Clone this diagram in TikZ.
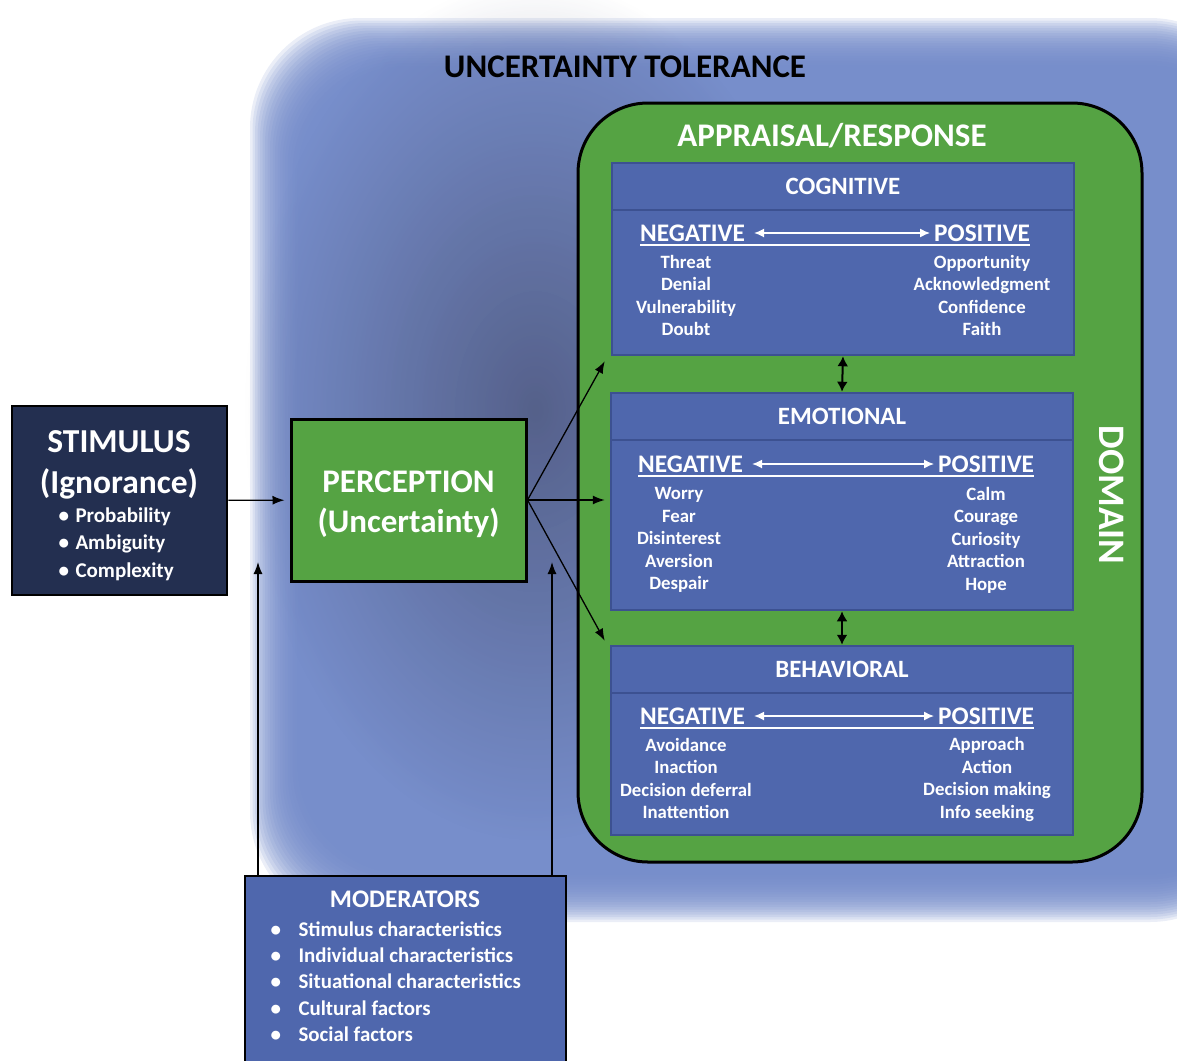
\documentclass[tikz,border=0pt]{standalone}
\usepackage{fontspec}
\setmainfont{Carlito}
\usetikzlibrary{arrows.meta,fadings}

\definecolor{boxblue}{HTML}{4F67AD}
\definecolor{boxedge}{HTML}{3C5191}
\definecolor{navy}{HTML}{232F50}
\definecolor{leaf}{HTML}{55A343}
\definecolor{haze}{HTML}{7088C8}
\definecolor{hazedark}{HTML}{4A5275}

\tikzfading[name=hazeout,inner color=transparent!0,outer color=transparent!100]

\tikzset{
	bluebox/.style={draw=boxedge,line width=2.5pt,fill=boxblue},
	hdr/.style={text=white,font=\fontsize{24.9}{28}\selectfont\bfseries},
	item/.style={text=white,font=\fontsize{18.8}{22.5}\selectfont\bfseries,align=center,inner sep=0pt},
	pol/.style={text=white,font=\fontsize{25.3}{28}\selectfont\bfseries,inner sep=0pt},
	link/.style={-{Latex[length=12pt,width=9pt]},line width=1.3pt},
	both/.style={{Latex[length=10pt,width=11pt]}-{Latex[length=10pt,width=11pt]},line width=2pt},
	wharrow/.style={{Latex[length=10pt,width=9pt]}-{Latex[length=10pt,width=9pt]},white,line width=1.4pt}
}

\begin{document}
\begin{tikzpicture}[x=1pt,y=-1pt]
	\useasboundingbox (0,0) rectangle (1177,1060);
	\clip (0,0) rectangle (1177,1060);

	% tolerance haze
	\foreach \i in {0,...,19}
		\fill[haze,opacity=0.14,rounded corners=110pt] (250+2.5*\i,18+2.5*\i) rectangle (1260,922-2.5*\i);
	\fill[hazedark,path fading=hazeout,opacity=0.75] (535,410) ellipse [x radius=290pt,y radius=430pt];
	\node[font=\fontsize{33}{38}\selectfont\bfseries] (ut) at (625,67) {UNCERTAINTY TOLERANCE};

	% appraisal / response
	\node[draw=black,line width=3pt,fill=leaf,rounded corners=70pt,minimum width=564pt,minimum height=759pt] (resp) at (860,482.5) {};
	\node[white,font=\fontsize{33}{38}\selectfont\bfseries] (ar) at (832,136) {APPRAISAL/RESPONSE};
	\node[white,rotate=-90,font=\fontsize{37.4}{42}\selectfont\bfseries] (dom) at (1112,495) {DOMAIN};

	\node[bluebox,hdr,minimum width=462pt,minimum height=47pt] (coghd) at (843,186.5) {COGNITIVE};
	\node[bluebox,minimum width=462pt,minimum height=145pt] (cogbd) at (843,282.5) {};
	\node[bluebox,hdr,minimum width=462pt,minimum height=47pt] (emohd) at (842,416.5) {EMOTIONAL};
	\node[bluebox,minimum width=462pt,minimum height=170pt] (emobd) at (842,525) {};
	\node[bluebox,hdr,minimum width=462pt,minimum height=47pt] (behhd) at (842,669.5) {BEHAVIORAL};
	\node[bluebox,minimum width=462pt,minimum height=142pt] (behbd) at (842,764) {};

	\foreach \p/\y/\nx/\px in {cog/241/640/934,emo/472/638/938,beh/724/640/938} {
		\node[pol,anchor=base west] (neg\p) at (\nx,\y) {NEGATIVE};
		\node[pol,anchor=base west] (pos\p) at (\px,\y) {POSITIVE};
		\draw[wharrow] ([xshift=9pt,yshift=8pt]neg\p.base east) -- ([xshift=-4pt,yshift=8pt]pos\p.base west);
		\draw[white,line width=1.3pt] ([yshift=-4pt]neg\p.base west) -- ([yshift=-4pt]pos\p.base east);
	}

	\node[item] (cogl) at (686,295.5) {Threat\\Denial\\Vulnerability\\Doubt};
	\node[item] (cogr) at (982,295.5) {Opportunity\\Acknowledgment\\Confidence\\Faith};
	\node[item] (emol) at (679,540) {Worry\\Fear\\Disinterest\\Aversion\\Despair};
	\node[item] (emor) at (986,540) {Calm\\Courage\\Curiosity\\Attraction\\Hope};
	\node[item] (behl) at (686,778.5) {Avoidance\\Inaction\\Decision deferral\\Inattention};
	\node[item] (behr) at (987,779.5) {Approach\\Action\\Decision making\\Info seeking};

	\draw[both] (cogbd.south) -- (emohd.north);
	\draw[both] (emobd.south) -- (behhd.north);

	% stimulus and perception
	\node[draw=black,line width=2.5pt,fill=navy,minimum width=215pt,minimum height=189pt] (stim) at (119.5,500.5) {};
	\node[white,font=\fontsize{33.5}{41}\selectfont\bfseries,align=center] (stimt) at (119,465) {STIMULUS\\(Ignorance)};
	\node[white,font=\fontsize{21}{27.5}\selectfont\bfseries,align=left,anchor=west] (stimi) at (55,544) {\makebox[17pt][l]{•}Probability\\\makebox[17pt][l]{•}Ambiguity\\\makebox[17pt][l]{•}Complexity};

	\node[draw=black,line width=3pt,fill=leaf,minimum width=235pt,minimum height=162pt] (perc) at (408.5,500) {};
	\node[text=white,font=\fontsize{33}{40}\selectfont\bfseries,align=center] (perct) at (408.5,504) {PERCEPTION\\(Uncertainty)};

	% moderators
	\node[draw=black,line width=2.5pt,fill=boxblue,minimum width=321pt,minimum height=200pt] (mod) at (405.5,976) {};
	\node[white,font=\fontsize{25.3}{28}\selectfont\bfseries] (modt) at (405,899) {MODERATORS};
	\node[white,font=\fontsize{20.9}{26.25}\selectfont\bfseries,align=left,anchor=west] (modi) at (267,981.5) {\makebox[28pt][l]{•}Stimulus characteristics\\\makebox[28pt][l]{•}Individual characteristics\\\makebox[28pt][l]{•}Situational characteristics\\\makebox[28pt][l]{•}Cultural factors\\\makebox[28pt][l]{•}Social factors};

	\coordinate (tocog) at ([xshift=-6pt,yshift=-5pt]cogbd.south west);
	\coordinate (toemo) at ([xshift=-5pt]perc.east -| emobd.west);
	\coordinate (tobeh) at ([xshift=-5pt,yshift=4pt]behhd.north west);
	\coordinate (upa) at (258,562);
	\coordinate (upb) at (552,562);

	\draw[link,shorten >=5pt] (stim) -- (perc);
	\foreach \to in {tocog,toemo,tobeh}
		\draw[link] (perc.east) -- (\to);
	\foreach \to in {upa,upb}
		\draw[link] (mod.north west -| \to) -- (\to);
\end{tikzpicture}
\end{document}
